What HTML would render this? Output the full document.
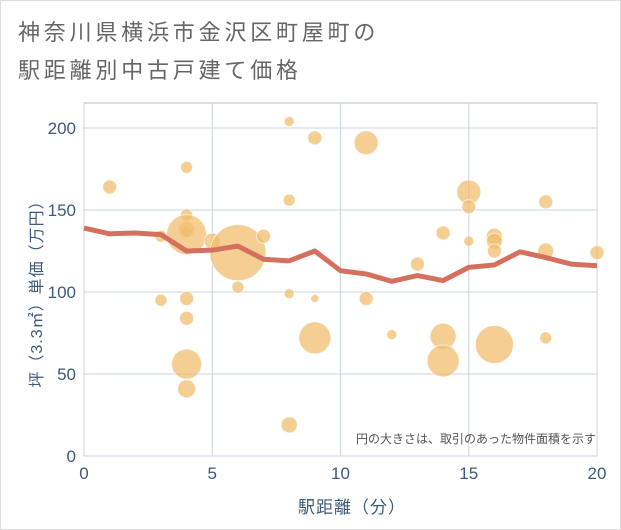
<!DOCTYPE html>
<html><head><meta charset="utf-8"><style>
body{margin:0;background:#fff;}
svg{display:block;font-family:"Liberation Sans","Noto Sans CJK JP",sans-serif;}
</style></head><body>
<svg id="c" width="621" height="530">
<rect x="0.5" y="0.5" width="620" height="529" fill="#fff" stroke="#ddd"/>
<text x="18" y="40" font-size="22" letter-spacing="3.8" fill="#666">神奈川県横浜市金沢区町屋町の</text>
<text x="18" y="78" font-size="22" letter-spacing="3.8" fill="#666">駅距離別中古戸建て価格</text>
<g id="grid"></g><g id="bubbles"></g><g id="line"></g><g id="axes"></g>
<text x="596" y="443" font-size="12" fill="#555" text-anchor="end">円の大きさは、取引のあった物件面積を示す</text>
<text x="352" y="513" font-size="17" letter-spacing="1" fill="#3d5a7a" text-anchor="middle">駅距離（分）</text>
<text transform="translate(42,290) rotate(-90)" font-size="16" letter-spacing="1" fill="#3d5a7a" text-anchor="middle">坪（3.3㎡）単価（万円）</text>
</svg>
<script>
const xTicks=[0,5,10,15,20];
const yTicks=[0,50,100,150,200];
const bx=[1,3,3,4,4,4,4,4,4,4,4,4,5,6,6,7,8,8,8,8,9,9,9,11,11,12,13,14,14,14,15,15,15,16,16,16,16,18,18,18,20];
const by=[164,134,95,176,147,138,137,135,96,84,56,41,131,124,103,134,204,156,99,19,194,96,72,191,96,74,117,136,73,58,161,152,131,134,131,125,68,155,125,72,124];
const bs=[7,6,6,6,6,8,6,20,7,7,15,9,8,28,6,7,5,6,5,8,7,4,16,12,7,5,7,7,13,16,12,7,5,8,8,7,19,7,8,6,7];
const lx=[0,1,2,3,4,5,6,7,8,9,10,11,12,13,14,15,16,17,18,19,20];
const ly=[139,135.5,136,135,125,125.5,128,120,119,125,113,111,106.5,110,107,115,116.5,124.5,121,117,116];
const X0=84,X1=597,Y0=456,Y1=128,TOP=103;
const sx=v=>X0+(v-0)/20*(X1-X0);
const sy=v=>Y0-(v-0)/200*(Y0-Y1);
const NS='http://www.w3.org/2000/svg';
function mk(t,a,p){const e=document.createElementNS(NS,t);for(const k in a)e.setAttribute(k,a[k]);p.appendChild(e);return e;}
const grid=document.getElementById('grid');
const bg=mk('rect',{x:X0,y:TOP,width:X1-X0,height:Y0-TOP,fill:'#fff',stroke:'#bbb'},grid);


xTicks.forEach(t=>{const l=mk('line',{x1:sx(t),x2:sx(t),y1:TOP,y2:Y0,stroke:'#c8d4e0'},grid);


const tx=mk('text',{x:sx(t),y:Y0+23,'font-size':17,fill:'#3d5a7a','text-anchor':'middle'},document.getElementById('axes'));tx.textContent=t;

});
yTicks.forEach(t=>{const l=mk('line',{x1:X0,x2:X1,y1:sy(t),y2:sy(t),stroke:'#c8d4e0'},grid);


const tx=mk('text',{x:X0-8,y:sy(t)+6,'font-size':17,fill:'#3d5a7a','text-anchor':'end'},document.getElementById('axes'));tx.textContent=t;

});
const bub=document.getElementById('bubbles');
bx.forEach((v,i)=>{const c=mk('circle',{cx:sx(v),cy:sy(by[i]),r:bs[i],fill:'rgba(240,190,110,0.75)',stroke:'rgba(255,255,255,0.6)','stroke-width':1},bub);

});
const pts=lx.map((v,i)=>sx(v)+','+sy(ly[i])).join(' ');
const pl=mk('polyline',{points:pts,fill:'none',stroke:'#d5705e','stroke-width':5,'stroke-linejoin':'round'},document.getElementById('line'));


</script>
</body></html>
